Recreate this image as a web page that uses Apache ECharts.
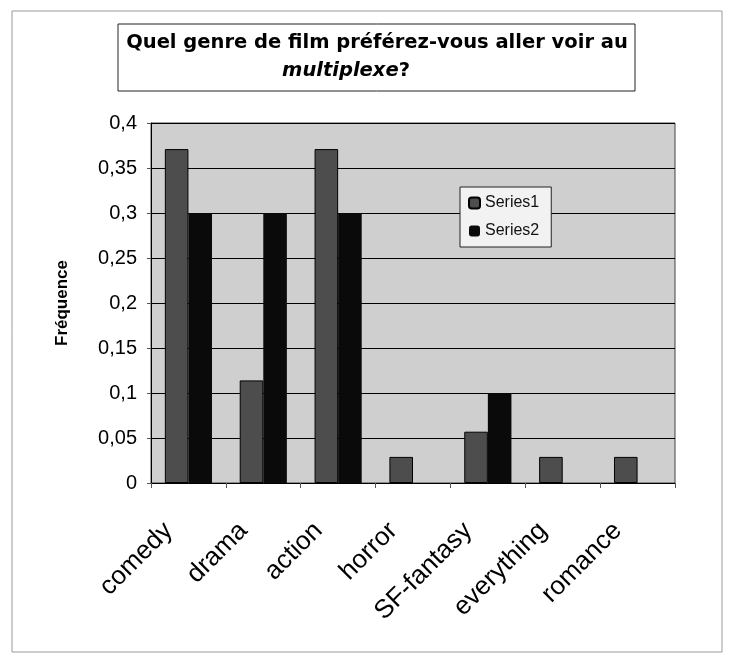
<!DOCTYPE html>
<html>
<head>
<meta charset="utf-8">
<script src="https://cdn.jsdelivr.net/npm/echarts@6/dist/echarts.min.js"></script>
<style>
  html, body { margin: 0; padding: 0; background: #fff; }
  #chart { width: 735px; height: 662px; }
</style>
</head>
<body>
<div id="chart"></div>
<script>
  // genres (x axis)
  const categories = ['comedy', 'drama', 'action', 'horror', 'SF-fantasy', 'everything', 'romance']
  // fréquences
  const series1 = [0.371, 0.114, 0.371, 0.029, 0.057, 0.029, 0.029]
  const series2 = [0.3, 0.3, 0.3, 0, 0.1, 0, 0]
  const seriesNames = ['Series1', 'Series2']
  const yTicks = [0, 0.05, 0.1, 0.15, 0.2, 0.25, 0.3, 0.35, 0.4]
  const titleLine1 = 'Quel genre de film préférez-vous aller voir au'
  const titleLine2 = '{i|multiplexe}?'

  const font = '"Liberation Sans", Arial, sans-serif'
  const titleFont = '"DejaVu Sans", Verdana, sans-serif'
  const chart = echarts.init(document.getElementById('chart'))

  chart.setOption({
    backgroundColor: '#fff',
    animation: false,
    legend: {
      orient: 'vertical',
      left: 460,
      top: 187,
      padding: [8, 12, 8, 8],
      itemGap: 12,
      itemWidth: 11,
      itemHeight: 11,
      backgroundColor: '#f2f2f2',
      borderColor: '#222',
      borderWidth: 1,
      textStyle: { fontFamily: font, fontSize: 16, color: '#111' },
      data: seriesNames
    },
    grid: {
      left: 151,
      right: 60,
      top: 123,
      bottom: 179,
      show: true,
      backgroundColor: '#cfcfcf',
      borderColor: '#444',
      borderWidth: 1
    },
    xAxis: {
      type: 'category',
      data: categories,
      axisLine: { lineStyle: { color: '#000' } },
      axisTick: { show: true, length: 5, lineStyle: { color: '#555' } },
      axisLabel: {
        rotate: 45,
        margin: 24,
        padding: [0, 28, 0, 0],
        fontFamily: font,
        fontSize: 26,
        color: '#000'
      }
    },
    yAxis: {
      type: 'value',
      min: yTicks[0],
      max: yTicks[yTicks.length - 1],
      interval: 0.05,
      name: 'Fréquence',
      nameLocation: 'middle',
      nameGap: 80,
      nameTextStyle: { fontFamily: font, fontSize: 17, fontWeight: 'bold', color: '#000' },
      axisLine: { show: true, lineStyle: { color: '#000' } },
      axisTick: { show: true, length: 4, lineStyle: { color: '#555' } },
      axisLabel: {
        fontFamily: font,
        fontSize: 20,
        color: '#000',
        margin: 14,
        formatter: v => String(Math.round(v * 100) / 100).replace('.', ',')
      },
      splitLine: { show: true, lineStyle: { color: '#000', width: 1 } }
    },
    series: [
      {
        name: seriesNames[0],
        type: 'bar',
        data: series1,
        barGap: '0%',
        barCategoryGap: '37%',
        itemStyle: { color: '#4d4d4d', borderColor: '#000', borderWidth: 1 }
      },
      {
        name: seriesNames[1],
        type: 'bar',
        data: series2,
        barGap: '0%',
        barCategoryGap: '37%',
        itemStyle: { color: '#0a0a0a' }
      }
    ],
    graphic: [
      {
        type: 'rect',
        shape: { x: 12, y: 11, width: 710, height: 641 },
        style: { fill: 'none', stroke: '#999', lineWidth: 1 },
        silent: true,
        z: -1
      },
      {
        type: 'rect',
        shape: { x: 118, y: 24, width: 517, height: 67 },
        style: { fill: '#fff', stroke: '#222', lineWidth: 1 },
        silent: true
      },
      {
        type: 'text',
        x: 377,
        y: 43,
        style: {
          text: titleLine1,
          align: 'center',
          verticalAlign: 'middle',
          fontFamily: titleFont,
          fontSize: 19.5,
          fontWeight: 'bold',
          fill: '#000'
        }
      },
      {
        type: 'text',
        x: 346,
        y: 71,
        style: {
          text: titleLine2,
          align: 'center',
          verticalAlign: 'middle',
          fontFamily: titleFont,
          fontSize: 19.5,
          fontWeight: 'bold',
          fill: '#000',
          rich: {
            i: { fontFamily: titleFont, fontSize: 19.5, fontWeight: 'bold', fontStyle: 'italic', fill: '#000' }
          }
        }
      }
    ]
  })
</script>
</body>
</html>
